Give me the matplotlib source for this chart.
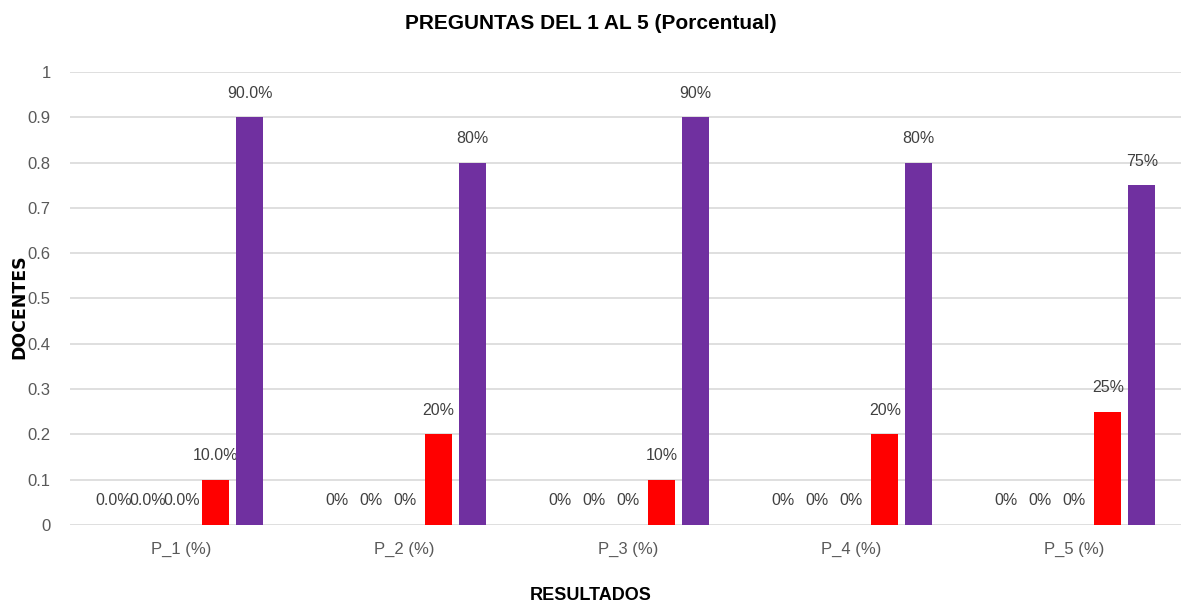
import matplotlib
matplotlib.use('Agg')
import matplotlib.pyplot as plt
import numpy as np

# data
categories = ['P_1 (%)', 'P_2 (%)', 'P_3 (%)', 'P_4 (%)', 'P_5 (%)']
serie_1 = [0, 0, 0, 0, 0]
serie_2 = [0, 0, 0, 0, 0]
serie_3 = [0, 0, 0, 0, 0]
serie_4 = [0.10, 0.20, 0.10, 0.20, 0.25]
serie_5 = [0.90, 0.80, 0.90, 0.80, 0.75]
label_formats = ['{:.1%}', '{:.0%}', '{:.0%}', '{:.0%}', '{:.0%}']
y_ticks = [0, 0.1, 0.2, 0.3, 0.4, 0.5, 0.6, 0.7, 0.8, 0.9, 1]

plt.rcParams['font.family'] = ['Liberation Sans', 'DejaVu Sans']

fig = plt.figure(figsize=(11.81, 6.08), dpi=100)
ax = fig.add_axes([0.0593, 0.1365, 0.9407, 0.7451])

series = [serie_1, serie_2, serie_3, serie_4, serie_5]
colors = ['#4472C4', '#ED7D31', '#A5A5A5', '#FF0000', '#7030A0']
step = 0.1525
width = 0.121
x = np.arange(len(categories))

for i, (vals, col) in enumerate(zip(series, colors)):
    pos = x + (i - 2) * step
    ax.bar(pos, vals, width=width, color=col, zorder=3)
    for j, (p, v) in enumerate(zip(pos, vals)):
        ax.annotate(label_formats[j].format(v), (p, v), xytext=(0, 12),
                    textcoords='offset points', ha='center', va='bottom',
                    fontsize=11.5, color='#404040')

ax.set_xlim(-0.5, 4.48)
ax.set_ylim(0, 1)
ax.set_yticks(y_ticks)
ax.set_yticklabels([f'{t:g}' for t in y_ticks])
ax.set_xticks(x)
ax.set_xticklabels(categories)
ax.yaxis.grid(True, color='#D9D9D9', linewidth=1.2, zorder=0)
ax.tick_params(axis='both', length=0, labelsize=12, colors='#595959')
ax.tick_params(axis='y', pad=14)
ax.tick_params(axis='x', pad=12)
for s in ax.spines.values():
    s.set_visible(False)

fig.text(0.5, 0.962, 'PREGUNTAS DEL 1 AL 5 (Porcentual)', ha='center', va='center',
         fontsize=15, fontweight='bold', color='black')
fig.text(0.5, 0.02, 'RESULTADOS', ha='center', va='center',
         fontsize=13, fontweight='bold', color='black')
fig.text(0.0165, 0.495, 'DOCENTES', ha='center', va='center', rotation=90,
         fontsize=12.5, fontweight='bold', color='black', family='DejaVu Sans')

fig.savefig('out.png', dpi=100)
